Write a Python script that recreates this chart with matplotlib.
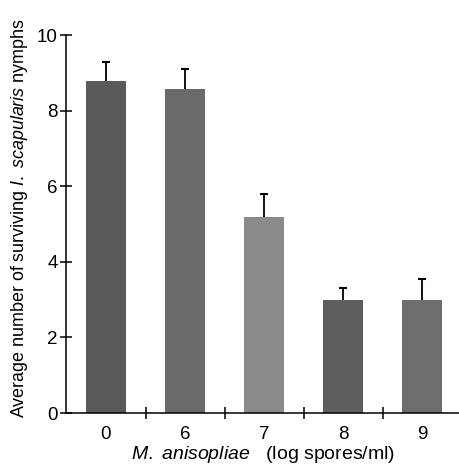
import matplotlib
matplotlib.use("Agg")
import matplotlib.pyplot as plt
import numpy as np

categories = ["0", "6", "7", "8", "9"]
means = [8.79, 8.57, 5.19, 2.99, 2.99]
errors = [0.51, 0.53, 0.60, 0.32, 0.55]
bar_colors = ["#5a5a5a", "#6a6a6a", "#8a8a8a", "#5e5e5e", "#6e6e6e"]

plt.rcParams['font.family'] = ['Liberation Sans', 'DejaVu Sans']
plt.rcParams['mathtext.fontset'] = 'custom'
plt.rcParams['mathtext.rm'] = 'Liberation Sans'
plt.rcParams['mathtext.it'] = 'Liberation Sans:italic'

fig = plt.figure(figsize=(4.6, 4.68), dpi=100)
ax = fig.add_axes([0.1435, 0.1175, 0.8565, 0.8075])

x = np.arange(len(categories))
ax.bar(x, means, width=0.506, color=bar_colors, edgecolor="none", zorder=2)
eb = ax.errorbar(x, means, yerr=[np.zeros(len(means)), errors], fmt="none",
                 ecolor="black", elinewidth=1.3, capsize=3, capthick=1.5, zorder=3)
eb[1][0].set_visible(False)

ax.set_xlim(-0.506, 4.48)
ax.set_ylim(0, 10)
ax.spines['top'].set_visible(False)
ax.spines['right'].set_visible(False)
ax.spines['left'].set_linewidth(1.1)
ax.spines['bottom'].set_linewidth(1.1)

ax.set_yticks([0, 2, 4, 6, 8, 10])
ax.tick_params(axis='y', direction='inout', length=8, width=1.1, labelsize=13.5, pad=2)
ax.set_xticks(x)
ax.set_xticklabels(categories)
ax.tick_params(axis='x', which='major', length=0, labelsize=13.5, pad=9)
ax.set_xticks([0.5, 1.5, 2.5, 3.5], minor=True)
ax.tick_params(axis='x', which='minor', direction='inout', length=9, width=1.1)

ax.set_ylabel(r"Average number of surviving $\mathit{I.\ scapularis}$ nymphs", fontsize=12.9)
ax.yaxis.set_label_coords(-0.092, 0.516)
ax.set_xlabel(r"$\mathit{M.\ anisopliae}$   (log spores/ml)", fontsize=14.0, labelpad=1)

fig.savefig("out.png", dpi=100)
